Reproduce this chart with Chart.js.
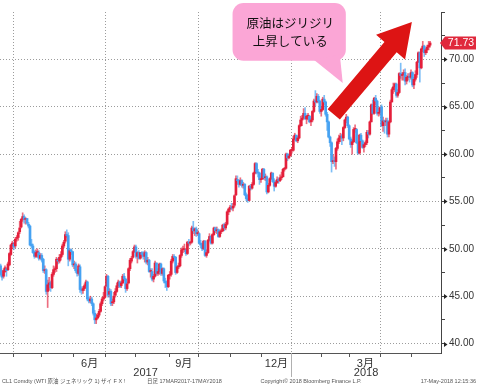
<!DOCTYPE html>
<html>
<head>
<meta charset="utf-8">
<script src="https://cdn.jsdelivr.net/npm/chart.js@4.4.1/dist/chart.umd.min.js"></script>
<style>
  html, body { margin: 0; padding: 0; background: #fff; }
  canvas { display: block; }
</style>
</head>
<body>
<canvas id="wti" width="477" height="386"></canvas>
<script>
// WTI (CL1) daily candles, 21 Mar 2017 - 17 May 2018, x = trading day index
const open = [
  // Mar 2017
  48.2, 47.3, 47.1, 47.6, 47.9, 47.8, 48.3, 49.4, 50.3,
  // Apr
  50.5, 50.3, 51.1, 51.2, 51.8, 52.3, 53.1, 53.4, 53.1, 53.2, 52.6, 52.4, 50.5, 50.3, 49.7, 49.2, 49.6, 49.6, 49.0,
  // May
  49.3, 48.9, 47.7, 47.8, 45.5, 46.2, 46.4, 45.9, 47.3, 47.8, 47.9, 48.8, 48.7, 49.1, 49.4, 50.3, 50.8, 51.5, 51.4, 48.9, 49.9, 49.7,
  // Jun
  48.3, 48.4, 47.7, 47.4, 48.1, 45.7, 45.6, 45.8, 46.1, 46.5, 44.7, 44.5, 44.7, 44.2, 43.2, 42.5, 42.7, 43.0, 43.4, 44.2, 44.7, 44.9,
  // Jul
  46.1, 47.1, 45.2, 45.5, 44.3, 44.4, 45.1, 45.5, 46.1, 46.5, 46.1, 46.4, 47.1, 46.8, 45.8, 46.4, 47.9, 48.7, 49.1, 49.7,
  // Aug
  50.2, 49.2, 49.6, 49.0, 49.6, 49.4, 49.2, 49.6, 48.6, 48.8, 47.6, 47.6, 46.8, 47.1, 48.5, 47.4, 47.6, 48.4, 47.4, 47.9, 46.6, 46.4, 46.0,
  // Sep
  47.2, 47.3, 48.7, 49.2, 49.1, 47.5, 48.1, 48.2, 49.3, 49.9, 49.9, 49.9, 49.5, 50.7, 50.6, 50.7, 52.2, 51.9, 52.1, 51.6,
  // Oct
  51.6, 50.6, 50.4, 50.0, 50.8, 49.3, 49.6, 50.9, 51.3, 50.6, 51.5, 52.2, 51.9, 52.0, 51.3, 51.8, 51.9, 52.5, 52.2, 52.6, 53.9, 54.2,
  // Nov
  54.4, 54.3, 54.6, 55.7, 57.3, 57.2, 56.8, 57.2, 56.7, 56.8, 55.7, 55.3, 55.1, 56.6, 56.4, 56.8, 58.0, 59.0, 58.1, 58.0, 57.3,
  // Dec
  57.4, 58.4, 57.5, 57.6, 56.0, 56.7, 57.4, 58.0, 57.1, 56.6, 57.0, 57.3, 57.2, 57.5, 57.6, 58.4, 58.5, 60.0, 59.6, 59.8,
  // Jan 2018
  60.4, 60.4, 61.6, 62.0, 61.4, 61.7, 63.0, 63.6, 63.8, 64.3, 63.7, 64.0, 64.0, 63.4, 63.6, 64.5, 65.6, 65.5, 66.1, 65.6, 64.5,
  // Feb
  64.7, 65.8, 65.5, 64.2, 63.4, 61.8, 61.2, 59.2, 59.3, 59.2, 60.6, 61.3, 61.7, 61.9, 61.7, 62.8, 63.6, 63.9, 63.0,
  // Mar
  61.6, 61.0, 61.3, 62.6, 62.6, 61.2, 60.1, 62.0, 61.4, 60.7, 61.0, 61.2, 62.3, 62.1, 63.4, 65.2, 64.3, 65.9, 65.6, 64.3, 64.4,
  // Apr
  65.0, 63.0, 63.5, 63.4, 63.5, 62.1, 63.4, 65.5, 66.8, 67.1, 67.4, 66.2, 66.5, 68.5, 68.3, 68.4, 68.6, 67.7, 68.1, 68.2, 68.1,
  // May
  68.6, 67.3, 67.9, 68.4, 69.7, 70.7, 69.1, 71.1, 71.4, 70.7, 71.0, 71.3, 71.5
];
const high = [
  48.4, 47.7, 47.9, 48.2, 48.0, 48.6, 49.6, 50.5, 50.8,
  50.7, 51.2, 51.4, 51.8, 52.9, 53.2, 53.8, 53.6, 53.3, 53.2, 52.8, 52.5, 51.0, 50.5, 49.8, 49.9, 50.0, 49.8, 49.5,
  49.5, 49.0, 48.2, 47.9, 46.7, 47.0, 46.6, 47.5, 48.2, 48.1, 49.1, 49.0, 49.4, 49.7, 50.5, 50.9, 51.8, 52.0, 51.7, 50.0, 50.0, 49.7,
  48.7, 48.6, 47.8, 48.4, 48.3, 46.0, 46.0, 46.3, 46.7, 46.6, 44.9, 45.0, 44.9, 44.3, 43.5, 43.1, 43.2, 43.6, 44.4, 44.9, 45.4, 46.1,
  47.3, 47.2, 45.8, 45.7, 44.7, 45.4, 45.8, 46.4, 46.7, 46.6, 46.6, 47.3, 47.4, 46.9, 46.5, 48.0, 49.0, 49.2, 49.8, 50.4,
  50.4, 49.7, 49.8, 49.6, 49.7, 49.7, 49.8, 49.7, 49.1, 48.9, 47.9, 47.9, 47.3, 48.7, 48.5, 47.9, 48.5, 48.5, 48.0, 48.0, 46.9, 46.6, 47.3,
  47.6, 48.9, 49.4, 49.4, 49.2, 48.2, 48.5, 49.4, 50.1, 50.3, 50.5, 50.0, 50.8, 51.0, 50.8, 52.4, 52.9, 52.2, 52.3, 52.0,
  51.7, 50.9, 50.6, 50.9, 50.9, 49.9, 51.0, 51.6, 51.4, 51.6, 52.3, 52.3, 52.3, 52.1, 52.0, 52.1, 52.6, 52.7, 52.8, 54.0, 54.3, 54.6,
  54.8, 54.8, 55.7, 57.7, 57.7, 57.3, 57.5, 57.3, 57.0, 56.9, 55.9, 55.7, 56.7, 56.8, 57.0, 58.1, 59.1, 59.1, 58.4, 58.1, 57.6,
  58.5, 58.5, 57.9, 57.7, 56.9, 57.5, 58.1, 58.0, 57.4, 57.2, 57.6, 57.5, 57.8, 58.1, 58.5, 58.6, 60.1, 60.1, 60.0, 60.5,
  60.7, 61.9, 62.2, 62.0, 61.9, 63.1, 64.0, 64.1, 64.8, 64.9, 64.1, 64.3, 64.1, 63.8, 64.6, 65.8, 66.7, 66.4, 66.3, 65.7, 65.0,
  66.0, 66.2, 65.6, 64.4, 63.5, 61.9, 61.3, 59.9, 59.7, 60.7, 61.6, 62.0, 62.2, 62.1, 62.9, 63.7, 64.2, 64.0, 63.1,
  61.8, 61.5, 62.8, 63.1, 62.7, 61.3, 62.1, 62.2, 61.5, 61.2, 61.4, 62.5, 62.5, 63.5, 65.3, 65.7, 66.0, 66.2, 65.7, 64.9, 65.0,
  65.2, 63.9, 63.6, 63.8, 63.8, 63.5, 65.7, 67.0, 67.5, 67.5, 67.5, 66.8, 68.6, 69.6, 68.6, 68.9, 69.0, 68.3, 68.5, 68.5, 68.9,
  68.7, 68.1, 68.8, 69.8, 70.8, 70.8, 71.2, 71.9, 71.5, 71.2, 71.5, 71.9, 71.9
];
const low = [
  47.1, 46.7, 46.9, 47.5, 47.1, 47.7, 48.2, 49.3, 50.0,
  49.9, 50.1, 50.8, 50.9, 51.6, 52.2, 52.9, 52.7, 52.6, 52.6, 52.2, 50.3, 50.1, 49.5, 49.0, 49.1, 49.1, 48.8, 48.9,
  48.6, 47.5, 47.4, 45.2, 43.8, 45.6, 45.5, 45.8, 47.1, 47.5, 47.6, 48.4, 48.5, 48.8, 49.2, 50.1, 50.6, 51.2, 48.2, 48.7, 49.4, 48.1,
  47.9, 47.5, 47.1, 47.2, 45.4, 45.2, 45.3, 45.6, 45.9, 44.5, 44.3, 44.3, 44.0, 43.0, 42.1, 42.1, 42.6, 42.8, 43.3, 44.0, 44.5, 44.8,
  46.0, 44.9, 44.9, 44.0, 44.0, 44.2, 44.9, 45.4, 45.9, 45.9, 45.9, 46.3, 46.6, 45.4, 45.6, 46.3, 47.7, 48.5, 49.0, 49.6,
  49.0, 48.5, 48.9, 48.9, 49.1, 48.9, 48.6, 48.4, 48.3, 47.5, 47.0, 46.6, 46.5, 47.0, 47.2, 47.2, 47.3, 47.2, 47.2, 46.4, 45.9, 45.6, 45.9,
  46.8, 47.1, 48.5, 48.8, 47.3, 47.4, 47.9, 48.1, 49.1, 49.6, 49.7, 49.3, 49.4, 50.3, 50.4, 50.6, 51.6, 51.4, 51.3, 51.4,
  50.5, 50.1, 49.8, 49.9, 49.2, 49.1, 49.5, 50.8, 50.5, 50.5, 51.4, 51.7, 51.6, 51.2, 51.2, 51.6, 51.8, 51.9, 52.0, 52.5, 53.6, 53.9,
  54.1, 54.0, 54.4, 55.6, 56.8, 56.5, 56.7, 56.5, 56.4, 55.6, 55.1, 54.9, 55.1, 56.2, 56.3, 56.7, 57.9, 57.9, 57.6, 56.8, 57.0,
  57.3, 57.3, 57.2, 55.8, 55.9, 56.6, 57.3, 57.0, 56.1, 56.5, 56.9, 56.9, 57.1, 57.3, 57.6, 58.2, 58.4, 59.3, 59.5, 59.8,
  60.1, 60.3, 61.5, 61.3, 61.2, 61.6, 62.9, 63.0, 63.7, 63.7, 63.2, 63.6, 63.3, 63.0, 63.4, 64.4, 65.1, 65.4, 65.4, 64.3, 64.0,
  64.6, 65.2, 64.0, 62.5, 61.7, 60.8, 58.1, 59.0, 58.7, 58.4, 60.4, 61.1, 61.3, 61.0, 61.4, 62.7, 63.3, 62.8, 61.5,
  60.7, 60.0, 61.2, 62.3, 61.1, 60.0, 60.0, 61.3, 60.6, 60.2, 60.8, 61.0, 61.7, 62.0, 63.4, 64.2, 64.2, 65.2, 64.1, 64.0, 64.1,
  62.9, 62.4, 62.2, 63.0, 61.8, 61.8, 63.3, 65.5, 66.4, 66.6, 66.0, 66.0, 66.4, 68.0, 67.8, 67.8, 67.3, 67.4, 67.8, 67.6, 67.9,
  67.1, 66.9, 67.7, 68.1, 69.7, 67.6, 69.0, 70.8, 70.3, 70.5, 70.7, 71.0, 71.3
];
const close = [
  47.3, 47.0, 47.7, 48.0, 47.7, 48.4, 49.5, 50.4, 50.6,
  50.2, 51.0, 51.2, 51.7, 52.2, 53.1, 53.4, 53.1, 53.2, 52.7, 52.4, 50.4, 50.3, 49.6, 49.2, 49.6, 49.6, 49.0, 49.3,
  48.8, 47.7, 47.8, 45.5, 46.2, 46.4, 45.9, 47.3, 47.8, 47.8, 48.9, 48.7, 49.1, 49.4, 50.3, 50.7, 51.5, 51.4, 48.9, 49.8, 49.7, 48.3,
  48.4, 47.7, 47.4, 48.2, 45.7, 45.6, 45.8, 46.1, 46.5, 44.7, 44.5, 44.7, 44.2, 43.2, 42.5, 42.7, 43.0, 43.4, 44.2, 44.7, 44.9, 46.0,
  47.1, 45.1, 45.5, 44.2, 44.4, 45.0, 45.5, 46.1, 46.5, 46.0, 46.4, 47.1, 46.8, 45.8, 46.3, 47.9, 48.8, 49.0, 49.7, 50.2,
  49.2, 49.6, 49.0, 49.6, 49.4, 49.2, 49.6, 48.6, 48.8, 47.6, 47.6, 46.8, 47.1, 48.5, 47.4, 47.6, 48.4, 47.4, 47.9, 46.6, 46.4, 46.0, 47.2,
  47.3, 48.7, 49.2, 49.1, 47.5, 48.1, 48.2, 49.3, 49.9, 49.9, 49.9, 49.5, 50.7, 50.6, 50.7, 52.2, 51.9, 52.1, 51.6, 51.7,
  50.6, 50.4, 50.0, 50.8, 49.3, 49.6, 50.9, 51.3, 50.6, 51.5, 52.2, 51.9, 52.0, 51.3, 51.8, 51.9, 52.5, 52.2, 52.6, 53.9, 54.2, 54.4,
  54.3, 54.5, 55.6, 57.4, 57.2, 56.8, 57.2, 56.7, 56.8, 55.7, 55.3, 55.1, 56.6, 56.4, 56.8, 58.0, 59.0, 58.1, 58.0, 57.3, 57.4,
  58.4, 57.5, 57.6, 56.0, 56.7, 57.4, 58.0, 57.1, 56.6, 57.0, 57.3, 57.2, 57.5, 57.6, 58.4, 58.5, 60.0, 59.6, 59.8, 60.4,
  60.4, 61.6, 62.0, 61.4, 61.7, 63.0, 63.6, 63.8, 64.3, 63.7, 64.0, 64.0, 63.4, 63.6, 64.5, 65.6, 65.5, 66.1, 65.6, 64.5, 64.7,
  65.8, 65.5, 64.2, 63.4, 61.8, 61.2, 59.2, 59.3, 59.2, 60.6, 61.3, 61.7, 61.9, 61.7, 62.8, 63.6, 63.9, 63.0, 61.6,
  61.0, 61.3, 62.6, 62.6, 61.2, 60.1, 62.0, 61.4, 60.7, 61.0, 61.2, 62.3, 62.1, 63.4, 65.2, 64.3, 65.9, 65.6, 64.3, 64.4, 64.9,
  63.0, 63.5, 63.4, 63.5, 62.1, 63.4, 65.5, 66.8, 67.1, 67.4, 66.2, 66.5, 68.5, 68.3, 68.4, 68.6, 67.7, 68.1, 68.2, 68.1, 68.6,
  67.3, 67.9, 68.4, 69.7, 70.7, 69.1, 71.1, 71.4, 70.7, 71.0, 71.3, 71.5, 71.73
];

// first trading day index of each month shown
const monthStart = [0, 9, 28, 50, 72, 92, 115, 135, 157, 178, 198, 219, 238, 259, 280];
const monthName  = ['3月','4月','5月','6月','7月','8月','9月','10月','11月','12月','1月','2月','3月','4月','5月'];
const labelledMonths = [3, 6, 9, 12]; // positions in monthStart that get a label (6月, 9月, 12月, 3月)
const quarterMonths = [1, 4, 7, 10, 13]; // Apr, Jul, Oct, Jan, Apr -> dotted grid
const years = ['2017', '2018'];
const yearStart = [-0.4, 197.5];
const yTicks = [40, 42.5, 45, 47.5, 50, 52.5, 55, 57.5, 60, 62.5, 65, 67.5, 70, 72.5, 75];
const yMajor = [40, 45, 50, 55, 60, 65, 70];

const X_MIN = -0.4, X_MAX = 299.4, Y_MIN = 39.0, Y_MAX = 75;
const UP = '#e41f3b', DOWN = '#46a2f2';

const bubble = { x0: 157.7, x1: 234.7, top: 75.95, bottom: 69.85, tipX: 232.6, tipY: 67.5,
                 lines: ['原油はジリジリ', '上昇している'] };
const arrowFrom = { x: 226.5, y: 64.2 }, arrowTo = { x: 279.6, y: 73.95 };

const boundaryTicks = monthStart.slice(1).map(i => i - 0.5);
const gridTicks = quarterMonths.map(m => monthStart[m] - 0.5);
const labelTicks = labelledMonths.map(m => (monthStart[m] + monthStart[m + 1]) / 2 - 0.5);

const bodies = close.map((c, i) => ({ x: i, y: [open[i], c] }));
const wicks = close.map((c, i) => ({ x: i, y: [low[i], high[i]] }));
const isUp = i => close[i] >= open[i];

const decor = {
  id: 'decor',
  afterDraw(chart) {
    const { ctx, chartArea: a, scales: { x, y } } = chart;
    ctx.save();

    // little arrow heads on the price ticks
    ctx.fillStyle = '#222';
    yMajor.forEach(v => {
      const py = Math.round(y.getPixelForValue(v)) + 0.5;
      ctx.beginPath();
      ctx.moveTo(a.right + 3, py - 2.5);
      ctx.lineTo(a.right + 6.5, py);
      ctx.lineTo(a.right + 3, py + 2.5);
      ctx.fill();
    });

    // year row
    ctx.fillStyle = '#333';
    ctx.font = '11px "Liberation Sans", Arial, sans-serif';
    ctx.textAlign = 'center';
    ctx.textBaseline = 'middle';
    years.forEach((yr, k) => {
      const s = Math.max(yearStart[k], X_MIN);
      const e = k + 1 < yearStart.length ? yearStart[k + 1] : X_MAX;
      ctx.fillText(yr, (x.getPixelForValue(s) + x.getPixelForValue(e)) / 2, 373);
    });
    ctx.strokeStyle = '#b0b0b0';
    ctx.lineWidth = 1;
    const sep = Math.round(x.getPixelForValue(yearStart[1])) + 0.5;
    ctx.beginPath(); ctx.moveTo(sep, a.bottom); ctx.lineTo(sep, 377); ctx.stroke();

    // footer
    ctx.fillStyle = '#555';
    ctx.font = '5.5px "Liberation Sans", "Noto Sans CJK JP", sans-serif';
    ctx.textBaseline = 'middle';
    ctx.textAlign = 'left';
    ctx.fillText('CL1 Comdty (WTI 原油 ジェネリック 1) ザイ F X !', 2, 381);
    ctx.fillText('日足 17MAR2017-17MAY2018', 147, 381);
    ctx.textAlign = 'center';
    ctx.fillText('Copyright© 2018 Bloomberg Finance L.P.', 311, 381);
    ctx.textAlign = 'right';
    ctx.fillText('17-May-2018 12:15:36', 476, 381);

    // last price tag
    const last = close[close.length - 1];
    const ty = y.getPixelForValue(last);
    ctx.fillStyle = '#e0283c';
    ctx.beginPath();
    ctx.moveTo(a.right - 1, ty);
    ctx.lineTo(a.right + 4, ty - 6.5);
    ctx.lineTo(476, ty - 6.5);
    ctx.lineTo(476, ty + 6.5);
    ctx.lineTo(a.right + 4, ty + 6.5);
    ctx.closePath();
    ctx.fill();
    ctx.fillStyle = '#fff';
    ctx.font = '10.5px "Liberation Sans", Arial, sans-serif';
    ctx.textAlign = 'center';
    ctx.fillText(last.toFixed(2), 461, ty + 0.5);

    // speech bubble
    const bx0 = x.getPixelForValue(bubble.x0), bx1 = x.getPixelForValue(bubble.x1);
    const by0 = y.getPixelForValue(bubble.top), by1 = y.getPixelForValue(bubble.bottom);
    const r = 11;
    ctx.fillStyle = '#fba6d6';
    ctx.beginPath();
    ctx.moveTo(bx0 + r, by0);
    ctx.arcTo(bx1, by0, bx1, by1, r);
    ctx.arcTo(bx1, by1, bx0, by1, r);
    ctx.arcTo(bx0, by1, bx0, by0, r);
    ctx.arcTo(bx0, by0, bx1, by0, r);
    ctx.closePath();
    ctx.fill();
    ctx.beginPath();
    ctx.moveTo(bx1 - 32, by1 - 1);
    ctx.lineTo(bx1 - 6, by1 - 6);
    ctx.lineTo(x.getPixelForValue(bubble.tipX), y.getPixelForValue(bubble.tipY));
    ctx.closePath();
    ctx.fill();
    ctx.fillStyle = '#111';
    ctx.font = '12.5px "Noto Sans CJK JP", sans-serif';
    ctx.textAlign = 'center';
    const cx = (bx0 + bx1) / 2 + 1;
    ctx.fillText(bubble.lines[0], cx, by0 + 20);
    ctx.fillText(bubble.lines[1], cx, by0 + 38);

    // red arrow
    const tx = x.getPixelForValue(arrowFrom.x), tyy = y.getPixelForValue(arrowFrom.y);
    const px = x.getPixelForValue(arrowTo.x), py = y.getPixelForValue(arrowTo.y);
    const len = Math.hypot(px - tx, py - tyy);
    const ux = (px - tx) / len, uy = (py - tyy) / len;
    const nx = -uy, ny = ux;
    const hw = 8, hl = 33, hh = 19;
    const bxp = px - ux * hl, byp = py - uy * hl;
    ctx.fillStyle = '#dd1414';
    ctx.beginPath();
    ctx.moveTo(tx + nx * hw, tyy + ny * hw);
    ctx.lineTo(bxp + nx * hw, byp + ny * hw);
    ctx.lineTo(bxp + nx * hh, byp + ny * hh);
    ctx.lineTo(px, py);
    ctx.lineTo(bxp - nx * hh, byp - ny * hh);
    ctx.lineTo(bxp - nx * hw, byp - ny * hw);
    ctx.lineTo(tx - nx * hw, tyy - ny * hw);
    ctx.closePath();
    ctx.fill();

    ctx.restore();
  }
};

new Chart(document.getElementById('wti').getContext('2d'), {
  type: 'bar',
  data: {
    datasets: [
      {
        label: 'range',
        data: wicks,
        grouped: false,
        barThickness: 1,
        backgroundColor: ctx => isUp(ctx.dataIndex) ? 'rgba(228,31,59,0.65)' : 'rgba(70,162,242,0.7)',
        order: 2
      },
      {
        label: 'body',
        data: bodies,
        grouped: false,
        barThickness: 2,
        minBarLength: 1,
        backgroundColor: ctx => isUp(ctx.dataIndex) ? UP : DOWN,
        order: 1
      }
    ]
  },
  options: {
    responsive: false,
    animation: false,
    layout: { padding: { top: 12, left: 0, right: 0, bottom: 0 } },
    plugins: { legend: { display: false }, tooltip: { enabled: false } },
    scales: {
      x: {
        type: 'linear',
        position: 'bottom',
        min: X_MIN,
        max: X_MAX,
        offset: false,
        afterBuildTicks: s => { s.ticks = boundaryTicks.concat(labelTicks).sort((p, q) => p - q).map(v => ({ value: v })); },
        afterFit: s => { s.height = 33; },
        grid: {
          offset: false,
          tickLength: 4,
          color: c => c.tick && gridTicks.includes(c.tick.value) ? '#9c9c9c' : 'rgba(0,0,0,0)',
          tickColor: c => c.tick && boundaryTicks.includes(c.tick.value) ? '#555' : 'rgba(0,0,0,0)'
        },
        border: { display: true, color: '#555', dash: [1, 2] },
        ticks: {
          autoSkip: false,
          maxRotation: 0,
          padding: 0,
          color: '#333',
          font: { size: 11, family: '"Liberation Sans", "Noto Sans CJK JP", sans-serif' },
          callback: v => {
            const k = labelTicks.indexOf(v);
            return k >= 0 ? monthName[labelledMonths[k]] : '';
          }
        }
      },
      y: {
        type: 'linear',
        position: 'right',
        min: Y_MIN,
        max: Y_MAX,
        afterBuildTicks: s => { s.ticks = yTicks.map(v => ({ value: v })); },
        afterFit: s => { s.width = 36; },
        grid: {
          tickLength: 4,
          color: c => c.tick && yMajor.includes(c.tick.value) ? '#9c9c9c' : 'rgba(0,0,0,0)',
          tickColor: '#444'
        },
        border: { display: true, color: '#444', dash: [1, 2] },
        ticks: {
          padding: 4,
          color: '#333',
          font: { size: 10, family: '"Liberation Sans", Arial, sans-serif' },
          callback: v => yMajor.includes(v) ? v.toFixed(2) : ''
        }
      }
    }
  },
  plugins: [decor]
});
</script>
</body>
</html>
